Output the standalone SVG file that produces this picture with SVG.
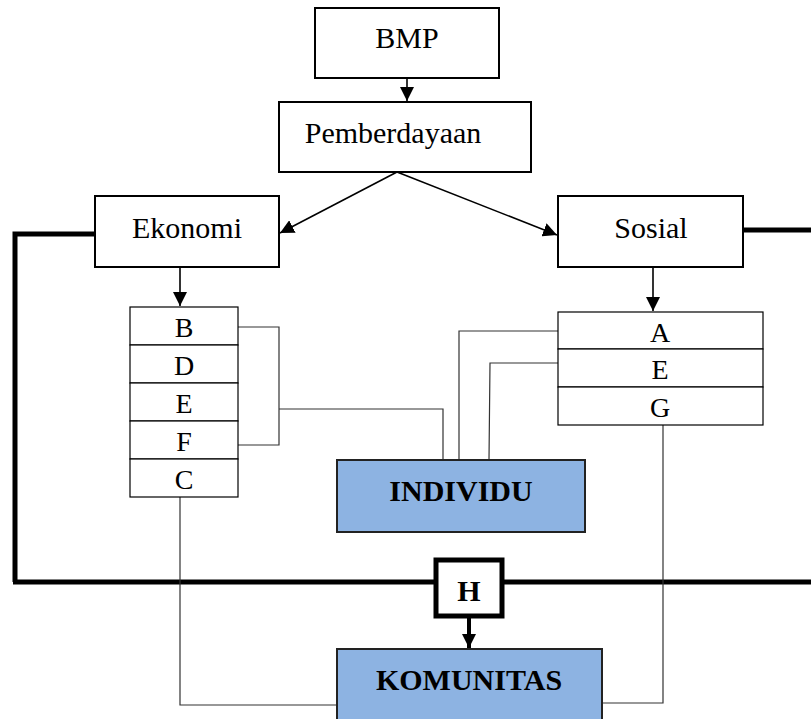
<svg xmlns="http://www.w3.org/2000/svg" width="811" height="719" viewBox="0 0 811 719">
<style>
.box{fill:#fff;stroke:#000;stroke-width:2}
.cell{fill:#fff;stroke:#000;stroke-width:1.2}
.blue{fill:#8db3e2;stroke:#222;stroke-width:2}
.t{font-family:"Liberation Serif","Times New Roman",serif;font-size:30px;fill:#000;text-anchor:middle}
.l{font-family:"Liberation Serif","Times New Roman",serif;font-size:28px;fill:#000;text-anchor:middle}
.b{font-family:"Liberation Serif","Times New Roman",serif;font-size:30px;font-weight:bold;fill:#000;text-anchor:middle}
.thin{fill:none;stroke:#333;stroke-width:1.2}
.arr{fill:none;stroke:#000;stroke-width:1.6}
.thick{fill:none;stroke:#000;stroke-width:5}
</style>
<defs>
<marker id="ah" viewBox="0 0 10 10" refX="10" refY="5" markerWidth="9" markerHeight="9" markerUnits="userSpaceOnUse" orient="auto">
<path d="M0,0 L10,5 L0,10 Z" fill="#000"/>
</marker>
<marker id="ah2" viewBox="0 0 10 10" refX="10" refY="5" markerWidth="14" markerHeight="14" markerUnits="userSpaceOnUse" orient="auto">
<path d="M0,0 L10,5 L0,10 Z" fill="#000"/>
</marker>
</defs>
<rect width="811" height="719" fill="#fff"/>
<g id="connectors">
<line class="arr" x1="407" y1="78" x2="407" y2="101" marker-end="url(#ah2)"/>
<line class="arr" x1="397" y1="172" x2="280" y2="233" marker-end="url(#ah2)"/>
<line class="arr" x1="397" y1="172" x2="557" y2="235" marker-end="url(#ah2)"/>
<line class="arr" x1="180" y1="267" x2="180" y2="306" marker-end="url(#ah2)"/>
<line class="arr" x1="653" y1="267" x2="653" y2="311" marker-end="url(#ah2)"/>
<polyline class="thick" points="95,234 15,234 15,582"/>
<line class="thick" x1="13" y1="582" x2="434" y2="582"/>
<line class="thick" x1="504" y1="582" x2="811" y2="582"/>
<line class="thick" x1="743" y1="230" x2="811" y2="230"/>
<polyline class="thin" points="238,327 279,327 279,445 238,445"/>
<polyline class="thin" points="279,409 443,409 443,460"/>
<polyline class="thin" points="558,331 459,331 459,460"/>
<polyline class="thin" points="558,363 490,363 489,460"/>
<polyline class="thin" points="180,497 180,705 337,705"/>
<polyline class="thin" points="663,425 663,703 602,703"/>
<line x1="469" y1="617" x2="469" y2="648" stroke="#000" stroke-width="4" marker-end="url(#ah2)"/>
</g>
<g id="bmp"><rect class="box" x="315" y="8" width="184" height="70"/><text class="t" x="407" y="48">BMP</text></g>
<g id="pemberdayaan"><rect class="box" x="279" y="102" width="252" height="70"/><text class="t" x="393" y="143">Pemberdayaan</text></g>
<g id="ekonomi"><rect class="box" x="95" y="196" width="184" height="71"/><text class="t" x="187" y="238">Ekonomi</text></g>
<g id="sosial"><rect class="box" x="558" y="196" width="185" height="71"/><text class="t" x="651" y="238">Sosial</text></g>
<g id="ekonomi-list">
<rect class="cell" x="130" y="307" width="108" height="38"/><text class="l" x="184" y="337">B</text>
<rect class="cell" x="130" y="345" width="108" height="38"/><text class="l" x="184" y="375">D</text>
<rect class="cell" x="130" y="383" width="108" height="38"/><text class="l" x="184" y="413">E</text>
<rect class="cell" x="130" y="421" width="108" height="38"/><text class="l" x="184" y="451">F</text>
<rect class="cell" x="130" y="459" width="108" height="38"/><text class="l" x="184" y="489">C</text>
</g>
<g id="sosial-list">
<rect class="cell" x="558" y="312" width="205" height="37"/><text class="l" x="660" y="342">A</text>
<rect class="cell" x="558" y="349" width="205" height="38"/><text class="l" x="660" y="379">E</text>
<rect class="cell" x="558" y="387" width="205" height="38"/><text class="l" x="660" y="417">G</text>
</g>
<g id="individu"><rect class="blue" x="337" y="460" width="248" height="72"/><text class="b" x="461" y="501">INDIVIDU</text></g>
<g id="h"><rect x="436" y="560" width="66" height="56" fill="#fff" stroke="#000" stroke-width="5"/><text class="b" x="469" y="601" font-size="26px">H</text></g>
<g id="komunitas"><rect class="blue" x="337" y="649" width="265" height="80"/><text class="b" x="469" y="690">KOMUNITAS</text></g>
</svg>
